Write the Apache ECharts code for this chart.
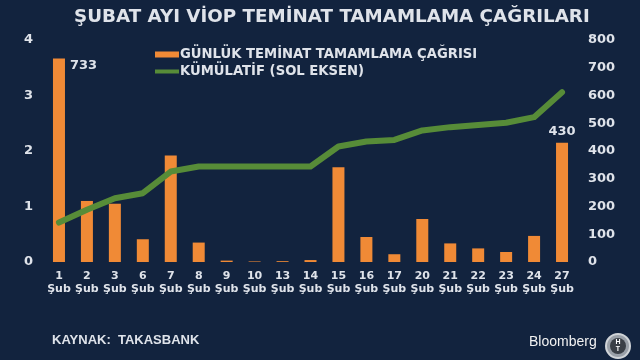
<!DOCTYPE html>
<html>
<head>
<meta charset="utf-8">
<script src="https://cdn.jsdelivr.net/npm/echarts@6/dist/echarts.min.js"></script>
<style>html,body{margin:0;padding:0;background:#12233e;}#c{width:640px;height:360px;}</style>
</head>
<body>
<div id="c"></div>
<script>
const categories = ['1','2','3','6','7','8','9','10','13','14','15','16','17','20','21','22','23','24','27'];
const dailyCalls = [733,220,210,82,384,70,5,2,3,7,341,90,28,155,67,49,36,94,430];
const cumulative = [0.71,0.94,1.15,1.24,1.63,1.72,1.72,1.72,1.72,1.72,2.08,2.17,2.20,2.37,2.43,2.47,2.51,2.61,3.06];
const leftTicks = [0,1,2,3,4];
const rightTicks = [0,100,200,300,400,500,600,700,800];

const txt = '#dfe3ea';
const font = 'DejaVu Sans';
const chart = echarts.init(document.getElementById('c'));
const lastBar = dailyCalls.length - 1;
const barData = dailyCalls.map((v, i) => {
  if (i === 0) return {value: v, label: {show: true, position: [17, 1], color: txt, fontSize: 13, fontWeight: 'bold', fontFamily: font}};
  if (i === lastBar) return {value: v, label: {show: true, position: 'top', distance: 5, color: txt, fontSize: 13, fontWeight: 'bold', fontFamily: font}};
  return v;
});
const lineData = cumulative.map((v, i) => {
  if (i === cumulative.length - 1) return {value: v, label: {show: true, position: 'top', offset: [-6, -2], color: txt, fontSize: 13, fontWeight: 'bold', fontFamily: font, formatter: p => p.value.toFixed(1).replace('.', ',')}};
  return v;
});

chart.setOption({
  backgroundColor: '#12233e',
  animation: false,
  title: {
    text: 'ŞUBAT AYI VİOP TEMİNAT TAMAMLAMA ÇAĞRILARI',
    left: 69, top: 3,
    textStyle: {color: txt, fontSize: 18.3, fontWeight: 'bold', fontFamily: font}
  },
  legend: {
    orient: 'vertical', left: 150, top: 43, itemGap: 4,
    itemWidth: 24, itemHeight: 6,
    textStyle: {color: txt, fontSize: 13.2, fontWeight: 'bold', fontFamily: font, padding: [0,0,0,-4]},
    data: [
      {name: 'GÜNLÜK TEMİNAT TAMAMLAMA ÇAĞRISI', icon: 'rect'},
      {name: 'KÜMÜLATİF (SOL EKSEN)', icon: 'path://M0,0 L24,0 L24,4 L0,4 Z'}
    ]
  },
  grid: {left: 45, right: 64, top: 40, bottom: 98},
  xAxis: {
    type: 'category', data: categories,
    axisLine: {show: false}, axisTick: {show: false},
    axisLabel: {interval: 0, color: txt, fontSize: 11, fontWeight: 'bold', fontFamily: font, margin: 8, lineHeight: 13,
      formatter: v => v + '\nŞub'}
  },
  yAxis: [
    {type: 'value', min: leftTicks[0], max: leftTicks[leftTicks.length-1], interval: 1,
      splitLine: {show: false}, axisLine: {show: false}, axisTick: {show: false},
      axisLabel: {color: txt, fontSize: 13, fontWeight: 'bold', fontFamily: font, margin: 12}},
    {type: 'value', min: rightTicks[0], max: rightTicks[rightTicks.length-1], interval: 100,
      splitLine: {show: false}, axisLine: {show: false}, axisTick: {show: false},
      axisLabel: {color: txt, fontSize: 13, fontWeight: 'bold', fontFamily: font, margin: 12}}
  ],
  series: [
    {name: 'GÜNLÜK TEMİNAT TAMAMLAMA ÇAĞRISI', type: 'bar', yAxisIndex: 1, barWidth: 12,
      itemStyle: {color: '#f08a36'}, data: barData},
    {name: 'KÜMÜLATİF (SOL EKSEN)', type: 'line', yAxisIndex: 0, symbol: 'none',
      lineStyle: {color: '#578c38', width: 6, join: 'round', cap: 'round'},
      itemStyle: {color: '#578c38'}, data: lineData, z: 3}
  ],
  graphic: [
    {type: 'text', left: 52, top: 334, style: {text: 'KAYNAK:  TAKASBANK', fill: txt, font: 'bold 13px "Liberation Sans", Arial, sans-serif'}},
    {type: 'text', left: 529, top: 335, style: {text: 'Bloomberg', fill: '#f2f2f2', font: '14px "Liberation Sans", Arial, sans-serif'}},
    {type: 'circle', shape: {cx: 618, cy: 346, r: 12}, style: {fill: '#9aa0a8', stroke: '#d0d4d8', lineWidth: 2}},
    {type: 'circle', shape: {cx: 618, cy: 346, r: 8}, style: {fill: '#3a3f46'}},
    {type: 'text', x: 618, y: 346, style: {text: 'H\nT', fill: '#ffffff', font: 'bold 7px sans-serif', align: 'center', verticalAlign: 'middle', lineHeight: 7}}
  ]
});
</script>
</body>
</html>
